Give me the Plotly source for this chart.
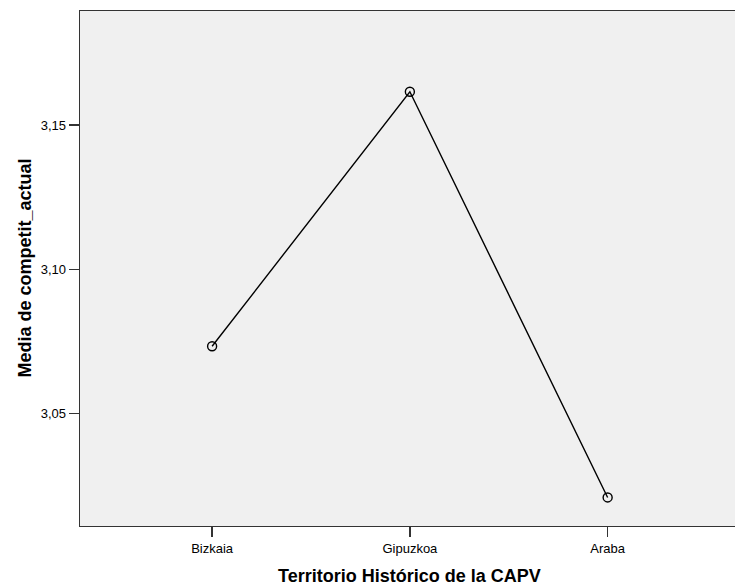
import plotly.graph_objects as go

categories = ["Bizkaia", "Gipuzkoa", "Araba"]
means = [3.0733, 3.1615, 3.0209]
y_ticks = [3.05, 3.10, 3.15]
y_tick_labels = ["3,05", "3,10", "3,15"]
x_title = "Territorio Histórico de la CAPV"
y_title = "Media de competit_actual"

fig = go.Figure()
fig.add_trace(go.Scatter(
    x=list(range(len(categories))), y=means, mode="lines+markers",
    line=dict(color="black", width=1.4),
    marker=dict(symbol="circle-open", size=9, color="black", line=dict(width=1.4)),
    showlegend=False, hoverinfo="skip",
))

font = "Liberation Sans, Arial, sans-serif"
fig.update_layout(
    width=735, height=585,
    margin=dict(l=80, r=0, t=11, b=59, pad=0),
    paper_bgcolor="white", plot_bgcolor="#F0F0F0",
    font=dict(family=font, size=13, color="black"),
    xaxis=dict(
        range=[-0.668, 2.644], tickmode="array",
        tickvals=list(range(len(categories))), ticktext=categories,
        ticks="outside", ticklen=10, tickwidth=1.3, tickcolor="#333",
        showline=True, linecolor="#333", linewidth=1.3, mirror=True,
        showgrid=False, zeroline=False, fixedrange=True,
        tickfont=dict(family=font, size=13, color="black"),
    ),
    yaxis=dict(
        range=[3.0110, 3.1895], tickmode="array",
        tickvals=y_ticks, ticktext=y_tick_labels,
        ticks="outside", ticklen=10, tickwidth=1.3, tickcolor="#333",
        showline=True, linecolor="#333", linewidth=1.3, mirror=True,
        showgrid=False, zeroline=False, fixedrange=True,
        tickfont=dict(family=font, size=13, color="black"),
    ),
    annotations=[
        dict(text="<b>" + x_title + "</b>", xref="x", yref="paper",
             x=1, y=0, yanchor="middle", yshift=-50, showarrow=False,
             font=dict(family=font, size=18, color="black")),
        dict(text="<b>" + y_title + "</b>", xref="paper", yref="paper",
             x=0, y=0.5, xanchor="center", xshift=-56, textangle=-90, showarrow=False,
             font=dict(family=font, size=18, color="black")),
    ],
)
fig.write_html(
    "out.html",
    config={"displayModeBar": False, "staticPlot": True},
    post_script="document.body.style.margin='0';"
                "document.body.style.overflow='hidden';"
                "document.documentElement.style.overflow='hidden';",
)
